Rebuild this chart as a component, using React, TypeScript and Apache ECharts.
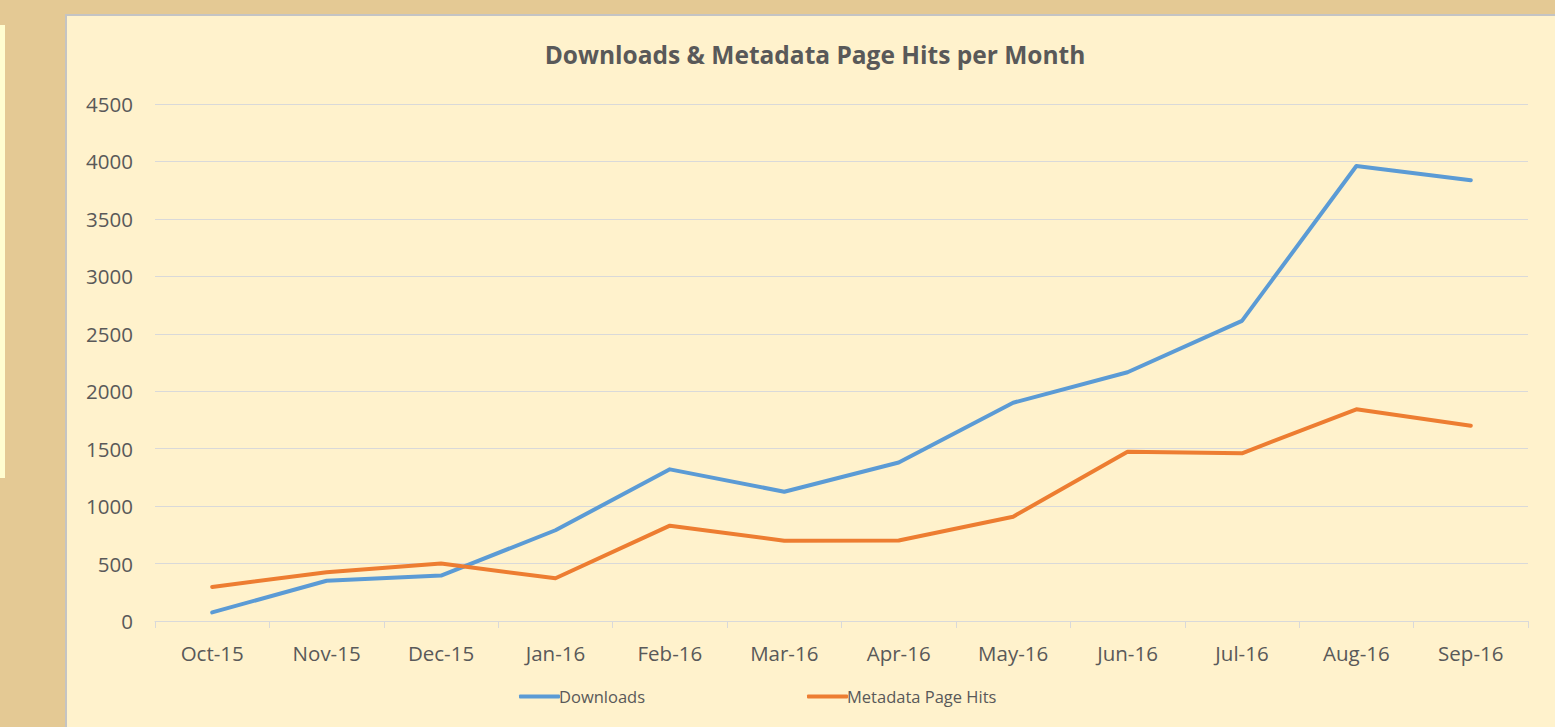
import React, { useEffect, useRef } from "react";
import * as echarts from "echarts";

const months = ["Oct-15", "Nov-15", "Dec-15", "Jan-16", "Feb-16", "Mar-16", "Apr-16", "May-16", "Jun-16", "Jul-16", "Aug-16", "Sep-16"];
const downloads = [75, 350, 395, 790, 1320, 1125, 1380, 1900, 2165, 2612, 3960, 3836];
const metadataHits = [296, 425, 500, 372, 830, 699, 700, 908, 1474, 1460, 1843, 1700];
const yTicks = { min: 0, max: 4500, interval: 500 };
const titleText = "Downloads & Metadata Page Hits per Month";
const seriesNames = ["Downloads", "Metadata Page Hits"];

const FONT = "'Open Sans', 'Noto Sans', sans-serif";
const TXT = "#595959";

export default function App() {
  const ref = useRef<HTMLDivElement>(null);
  useEffect(() => {
    document.body.style.margin = "0";
    const chart = echarts.init(ref.current!, null, { renderer: "svg" });
    const legendBase = {
      top: 683,
      icon: "roundRect",
      itemWidth: 41,
      itemHeight: 4,
      itemGap: 0,
      textStyle: { fontFamily: FONT, fontSize: 16.5, color: TXT, padding: [0, 0, 0, -6] },
    };
    chart.setOption({
      animation: false,
      backgroundColor: "#E4C994",
      graphic: [
        { type: "rect", shape: { x: 0, y: 25, width: 5, height: 453 }, style: { fill: "#FFFDD0" }, z: -10 },
        { type: "rect", shape: { x: 66, y: 15, width: 1500, height: 720 }, style: { fill: "#FFF2CC", stroke: "#C4C4C4", lineWidth: 2 }, z: -10 },
      ],
      title: {
        text: titleText,
        left: 810,
        textAlign: "center",
        top: 37,
        textStyle: { fontFamily: FONT, fontWeight: "bold", fontSize: 24.5, color: TXT },
      },
      legend: [
        { ...legendBase, data: [seriesNames[0]], left: 514 },
        { ...legendBase, data: [seriesNames[1]], left: 802 },
      ],
      grid: { left: 155, right: 27, top: 104, bottom: 106, containLabel: false },
      xAxis: {
        type: "category",
        data: months,
        boundaryGap: true,
        axisLine: { lineStyle: { color: "#D9D9D9", width: 1 } },
        axisTick: { show: true, length: 7, lineStyle: { color: "#D9D9D9" } },
        axisLabel: { fontFamily: FONT, fontSize: 20.5, color: TXT, margin: 21 },
      },
      yAxis: {
        type: "value",
        min: yTicks.min,
        max: yTicks.max,
        interval: yTicks.interval,
        axisLine: { show: false },
        axisTick: { show: false },
        splitLine: { lineStyle: { color: "#D9D9D9", width: 1 } },
        axisLabel: { fontFamily: FONT, fontSize: 20.5, color: TXT, margin: 22, formatter: (v: number) => String(v) },
      },
      series: [
        {
          name: seriesNames[0],
          type: "line",
          data: downloads,
          showSymbol: false,
          symbol: "none",
          lineStyle: { color: "#5B9BD5", width: 4, cap: "round", join: "round" },
          itemStyle: { color: "#5B9BD5" },
        },
        {
          name: seriesNames[1],
          type: "line",
          data: metadataHits,
          showSymbol: false,
          symbol: "none",
          lineStyle: { color: "#ED7D31", width: 4, cap: "round", join: "round" },
          itemStyle: { color: "#ED7D31" },
        },
      ],
    });
    return () => chart.dispose();
  }, []);
  return <div ref={ref} style={{ position: "fixed", left: 0, top: 0, width: 1555, height: 727 }} />;
}
